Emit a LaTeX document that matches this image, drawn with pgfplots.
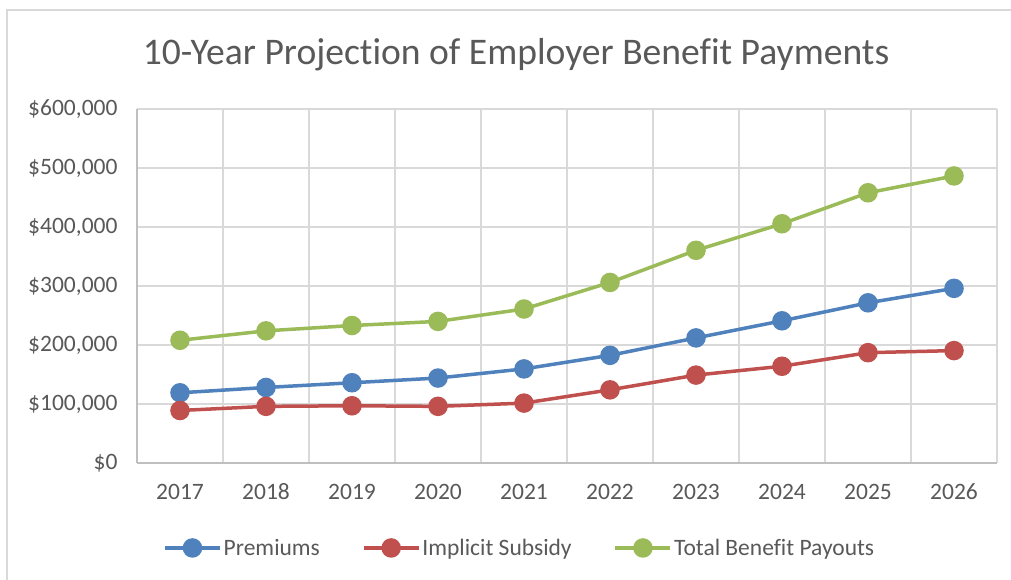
\documentclass[border=0pt]{standalone}
\usepackage{pgfplots}
\pgfplotsset{compat=1.18}
\usepackage{fontspec}
\setmainfont[Ligatures=NoCommon]{Carlito}
\definecolor{txt}{HTML}{595959}
\definecolor{gridc}{HTML}{D9D9D9}
\definecolor{axc}{HTML}{BFBFBF}
\definecolor{cblue}{HTML}{4F81BD}
\definecolor{cred}{HTML}{C0504D}
\definecolor{cgreen}{HTML}{9BBB59}
\begin{document}
\begin{tikzpicture}
\useasboundingbox (-137pt,-117pt) rectangle (874pt,463pt);
\fill[white] (-137pt,-117pt) rectangle (874pt,463pt);
\draw[gridc, line width=1.5pt] (-130pt,-130pt) -- (-130pt,453pt) -- (890pt,453pt);
\node[txt, font=\fontsize{37.6}{40}\selectfont] at (379pt,408pt) {10-Year Projection of Employer Benefit Payments};
\begin{axis}[
  at={(0,0)}, anchor=south west,
  width=860pt, height=354pt, scale only axis,
  xmin=-0.5, xmax=9.5, ymin=0, ymax=600000,
  xtick={0,...,9},
  xticklabels={2017,2018,2019,2020,2021,2022,2023,2024,2025,2026},
  minor xtick={0.5,1.5,...,9.5},
  ytick={0,100000,...,600000},
  ymajorgrids, xminorgrids,
  grid style={gridc, line width=1.2pt},
  minor grid style={gridc, line width=1.2pt},
  axis x line*=bottom, axis y line*=left,
  axis line style={axc, line width=1.2pt, -},
  major tick length=0pt, minor tick length=0pt,
  tick style={draw=none},
  scaled y ticks=false,
  /pgf/number format/assume math mode=true,
  yticklabel={\$\pgfmathprintnumber[fixed,precision=0,1000 sep={,}]{\tick}},
  ticklabel style={txt, font=\fontsize{23.5}{26}\selectfont},
  yticklabel style={xshift=-16pt},
  xticklabel style={anchor=north, text height=15pt, text depth=0pt, yshift=-18pt},
  legend columns=3,
  legend style={at={(0.445,-0.24)}, anchor=center, draw=none, fill=none,
    font=\fontsize{23.5}{26}\selectfont, text=txt,
    /tikz/every even column/.append style={column sep=40pt}},
  legend image code/.code={
    \draw[#1, mark=none] (0pt,0pt) -- (55pt,0pt);
    \draw[#1, only marks] plot coordinates {(27.5pt,0pt)};
  },
  every axis plot/.append style={line width=3.5pt, mark=*, mark size=8pt},
]
\addplot[cblue, mark options={fill=cblue, draw=cblue}] coordinates {
(0,119000) (1,128000) (2,136000) (3,144000) (4,159500) (5,182500) (6,212000) (7,241000) (8,271500) (9,296000)};
\addlegendentry{Premiums}
\addplot[cred, mark options={fill=cred, draw=cred}] coordinates {
(0,89000) (1,96000) (2,97000) (3,96000) (4,101500) (5,124000) (6,149000) (7,164000) (8,187000) (9,190500)};
\addlegendentry{Implicit Subsidy}
\addplot[cgreen, mark options={fill=cgreen, draw=cgreen}] coordinates {
(0,208000) (1,224000) (2,233000) (3,240000) (4,261000) (5,306000) (6,360500) (7,405500) (8,458000) (9,486500)};
\addlegendentry{Total Benefit Payouts}
\end{axis}
\end{tikzpicture}
\end{document}
